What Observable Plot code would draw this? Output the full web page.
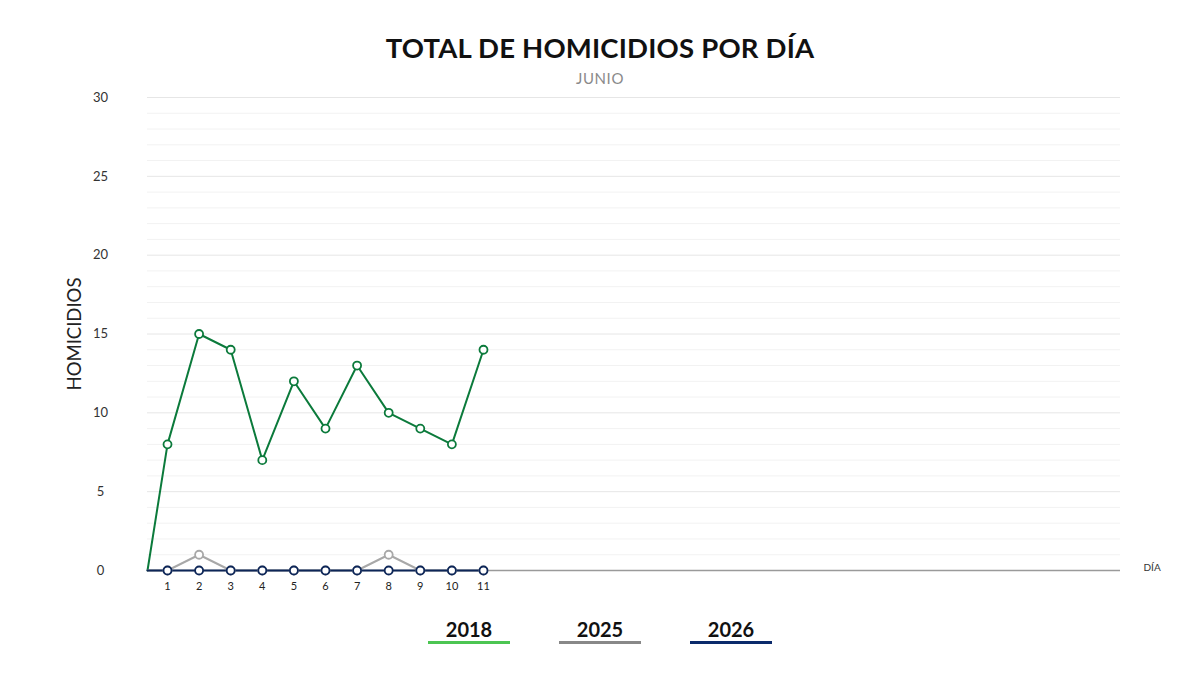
<!DOCTYPE html>
<html>
<head>
<meta charset="utf-8">
<script src="https://cdn.jsdelivr.net/npm/d3@7"></script>
<script src="https://cdn.jsdelivr.net/npm/@observablehq/plot@0.6"></script>
<style>
  html, body { margin: 0; padding: 0; background: #fff; }
  body { width: 1200px; height: 675px; overflow: hidden; font-family: Lato, "Open Sans", sans-serif; }
  #header { height: 88px; position: relative; }
  #title { position: absolute; top: 31px; left: 0; width: 1200px; text-align: center; font-size: 27.5px; font-weight: 700; color: #111; letter-spacing: 0.2px; }
  #subtitle { position: absolute; top: 69px; left: 0; width: 1200px; text-align: center; font-size: 15px; font-weight: 400; color: #8a8a8a; letter-spacing: 0.6px; }
  #chart { height: 525px; }
  #legend { display: flex; justify-content: center; gap: 49px; margin-top: 4px; }
  .item { width: 82px; text-align: center; font-size: 20px; font-weight: 700; color: #111; }
  .bar { height: 3px; margin-top: 0px; }
</style>
</head>
<body>
<div id="header">
  <div id="title">TOTAL DE HOMICIDIOS POR DÍA</div>
  <div id="subtitle">JUNIO</div>
</div>
<div id="chart"></div>
<div id="legend"></div>
<script>
const days = [1, 2, 3, 4, 5, 6, 7, 8, 9, 10, 11];
const v2018 = [8, 15, 14, 7, 12, 9, 13, 10, 9, 8, 14];
const v2025 = [0, 1, 0, 0, 0, 0, 0, 1, 0, 0, 0];
const v2026 = [0, 0, 0, 0, 0, 0, 0, 0, 0, 0, 0];
const seriesNames = ["2018", "2025", "2026"];
const lineColors = ["#0b7a3b", "#a8a8a8", "#0d2658"];
const legendColors = ["#4cc552", "#888888", "#0b2a6b"];
const startValue = 0;
const yTicks = [0, 5, 10, 15, 20, 25, 30];
const xDomain = [0.367, 31.16];

const seriesValues = [v2018, v2025, v2026];
const rows = seriesValues.map((vals, i) => vals.map((v, j) => ({series: seriesNames[i], day: days[j], value: v})));
const lines = rows.map((r, i) => [{series: seriesNames[i], day: xDomain[0], value: startValue}, ...r]);

const marks = [
  Plot.gridY(d3.range(0, 31, 1).filter(d => d % 5 !== 0), {stroke: "#f2f2f2", strokeOpacity: 1, strokeWidth: 1}),
  Plot.gridY(yTicks.filter(d => d > 0), {stroke: "#e6e6e6", strokeOpacity: 1, strokeWidth: 1}),
  Plot.ruleY([0], {stroke: "#9a9a9a", strokeWidth: 1.5}),
  Plot.axisY(yTicks, {tickSize: 0, tickPadding: 0, textAnchor: "middle", dx: -47, fontSize: 13, fill: "#333", label: null}),
  Plot.axisX(days, {tickSize: 0, tickPadding: 12, fontSize: 11, fill: "#222", label: null}),
  Plot.text(["HOMICIDIOS"], {frameAnchor: "left", textAnchor: "middle", dx: -72, rotate: -90, fontSize: 18.5, fill: "#222", fontWeight: 400}),
  Plot.text(["DÍA"], {frameAnchor: "bottom-right", dx: 23, dy: 0, fontSize: 10, fill: "#333", textAnchor: "start"})
];
lines.forEach((ln, i) => {
  marks.push(Plot.line(ln, {x: "day", y: "value", stroke: lineColors[i], strokeWidth: 2}));
});
rows.forEach((r, i) => {
  marks.push(Plot.dot(r, {x: "day", y: "value", r: 4, fill: "#fff", stroke: lineColors[i], strokeWidth: 1.8}));
});

const chart = Plot.plot({
  width: 1200,
  height: 525,
  marginTop: 9,
  marginBottom: 43,
  marginLeft: 147,
  marginRight: 80,
  style: {fontFamily: "Lato, sans-serif", background: "#fff"},
  x: {type: "linear", domain: xDomain, axis: null},
  y: {domain: [0, 30], axis: null},
  marks
});
document.getElementById("chart").appendChild(chart);

const legend = document.getElementById("legend");
seriesNames.forEach((name, i) => {
  const item = document.createElement("div");
  item.className = "item";
  item.innerHTML = `<div>${name}</div><div class="bar" style="background:${legendColors[i]}"></div>`;
  legend.appendChild(item);
});
</script>
</body>
</html>
